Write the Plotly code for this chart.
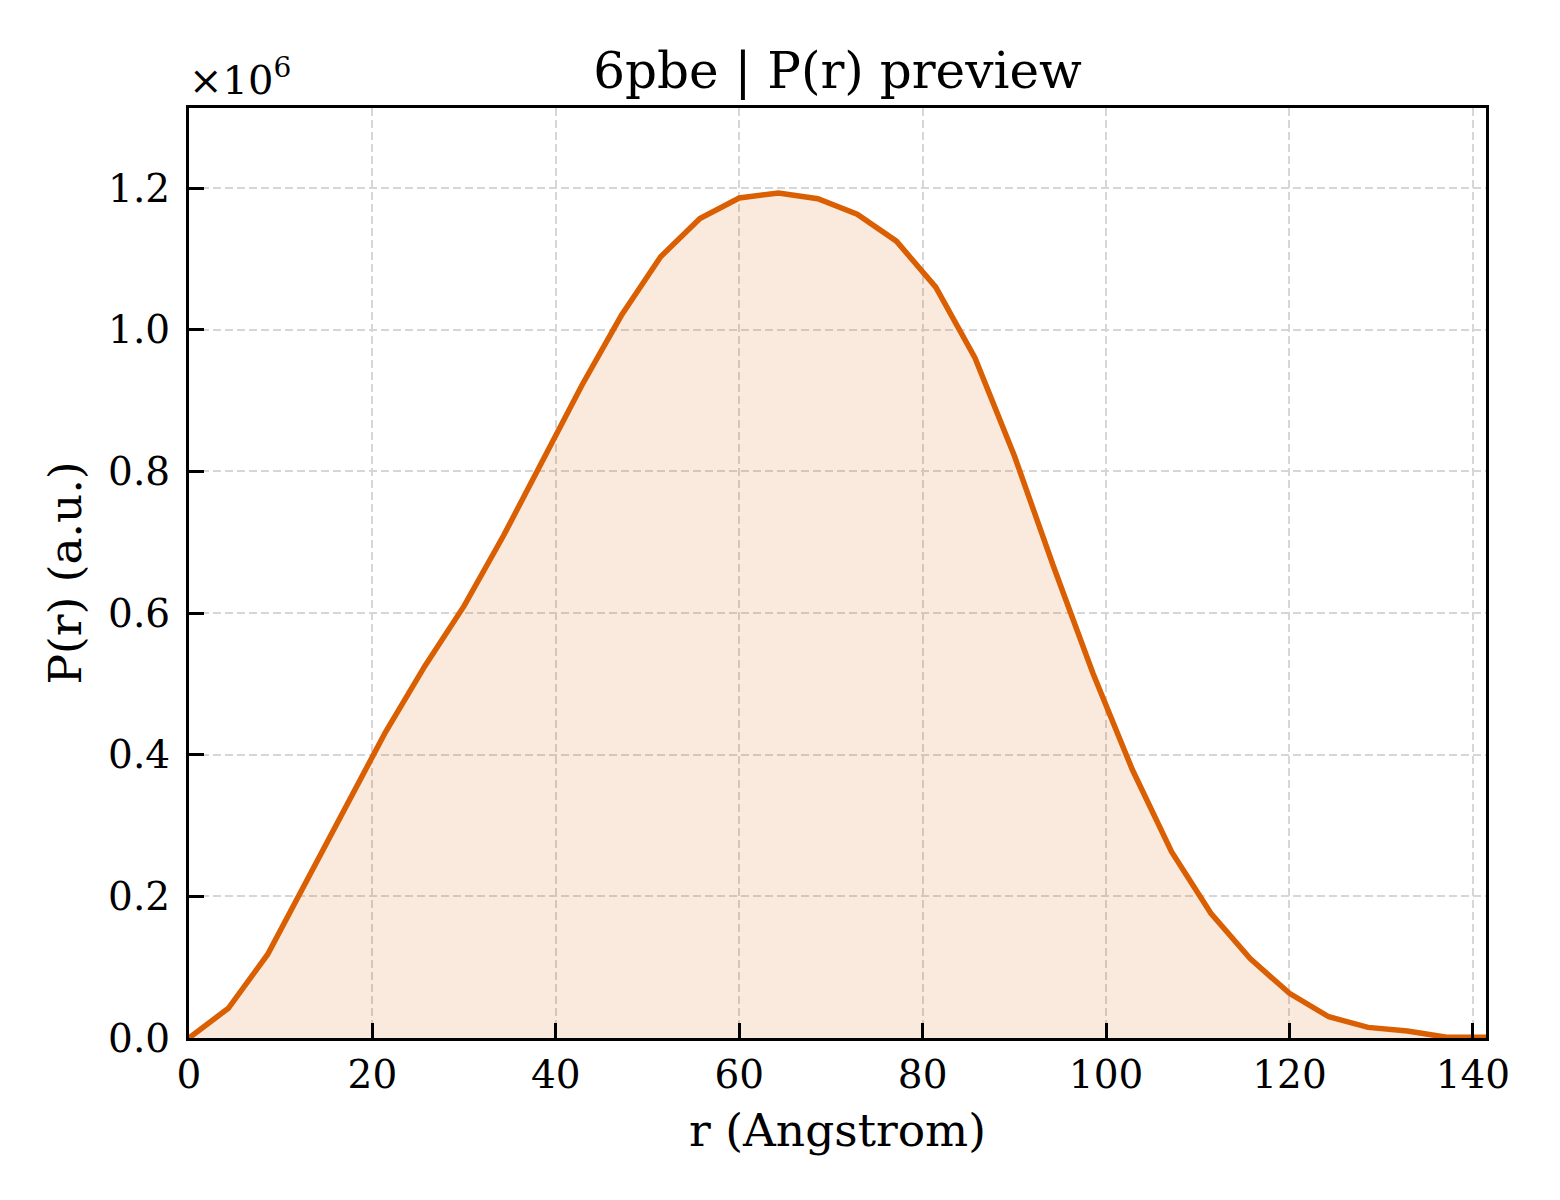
import numpy as np
import plotly.graph_objects as go

# r values (Angstrom)
R = [0.0, 4.29, 8.57, 12.86, 17.14, 21.43, 25.71, 30.0, 34.29, 38.57, 42.86,
     47.14, 51.43, 55.71, 60.0, 64.29, 68.57, 72.86, 77.14, 81.43, 85.71,
     90.0, 94.29, 98.57, 102.86, 107.14, 111.43, 115.71, 120.0, 124.29,
     128.57, 132.86, 137.14, 141.43]
# P(r) values (a.u.)
P_R = [0, 42000, 118000, 222000, 328000, 432000, 525000, 610000, 709000,
       815000, 922000, 1020000, 1103000, 1157000, 1186000, 1193000, 1185000,
       1163000, 1125000, 1060000, 960000, 822000, 665000, 515000, 379000,
       263000, 176000, 112000, 63000, 30000, 15000, 10000, 1000, 1000]

X_TICKS = [0, 20, 40, 60, 80, 100, 120, 140]
Y_TICKS = [0.0, 0.2, 0.4, 0.6, 0.8, 1.0, 1.2]

TITLE = "6pbe | P(r) preview"
X_LABEL = "r (Angstrom)"
Y_LABEL = "P(r) (a.u.)"

SCALE = 1e6
y = np.array(P_R, dtype=float) / SCALE

LINE_COLOR = "#d95f02"
FONT = "DejaVu Serif"

fig = go.Figure()
fig.add_trace(go.Scatter(
    x=R, y=y, mode="lines",
    line=dict(color=LINE_COLOR, width=5.5),
    fill="tozeroy", fillcolor="rgba(217,95,2,0.13)",
    showlegend=False, hoverinfo="skip",
))

axis_common = dict(
    showline=True, linecolor="black", linewidth=3.2, mirror=True,
    ticks="inside", ticklen=15, tickwidth=3, tickcolor="black",
    showgrid=True, gridcolor="#d6d6d6", gridwidth=1.5, griddash="8px,4px",
    zeroline=False,
    tickfont=dict(family=FONT, size=39, color="black"),
    title_font=dict(family=FONT, size=45.5, color="black"),
)

fig.update_xaxes(
    **axis_common,
    range=[0, 141.43], tickvals=X_TICKS, ticktext=[str(v) for v in X_TICKS],
    title_text=X_LABEL, title_standoff=19,
)
fig.update_yaxes(
    **axis_common,
    range=[0, 1.313], tickvals=Y_TICKS, ticktext=[f"{v:.1f}" for v in Y_TICKS],
    title_text=Y_LABEL, title_standoff=13, ticklabelstandoff=8,
)

fig.update_layout(
    width=1560, height=1200,
    margin=dict(l=181, r=82, t=100, b=170),
    paper_bgcolor="white", plot_bgcolor="white",
    title=dict(text=TITLE, x=0.5, xref="paper", xanchor="center",
               y=1, yref="paper", yanchor="bottom", pad=dict(b=20),
               font=dict(family=FONT, size=50, color="black")),
    font=dict(family=FONT, color="black"),
)

fig.add_annotation(
    text="×10<sup>6</sup>", xref="paper", yref="paper", x=0, y=1,
    xanchor="left", yanchor="bottom", showarrow=False, xshift=-2, yshift=3,
    font=dict(family=FONT, size=40, color="black"),
)

fig.write_html("out.html")
